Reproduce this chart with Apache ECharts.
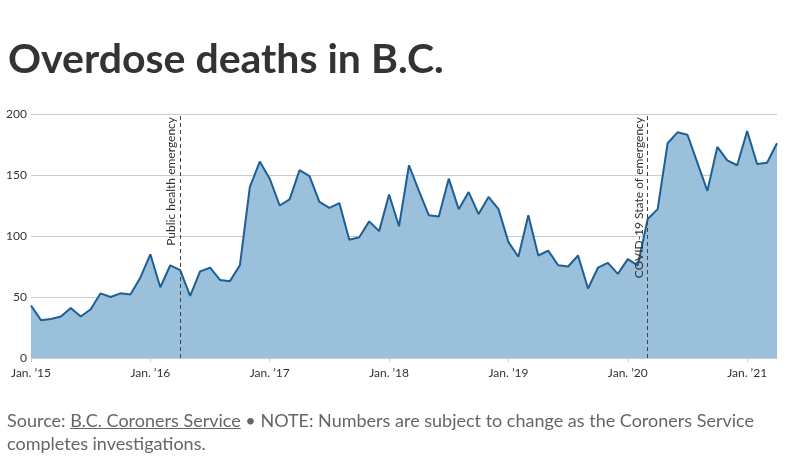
<!DOCTYPE html>
<html>
<head>
<meta charset="utf-8">
<script src="https://cdn.jsdelivr.net/npm/echarts@6/dist/echarts.min.js"></script>
<style>
  html, body { margin: 0; padding: 0; background: #fff; }
  #wrap { position: relative; width: 789px; height: 469px; overflow: hidden; }
  #chart { position: absolute; left: 0; top: 0; width: 789px; height: 469px; }
  #note {
    position: absolute; left: 7px; top: 409px; width: 775px;
    font-family: Lato, sans-serif; font-size: 18px; line-height: 23px; color: #666;
  }
  #note a { color: #666; text-decoration: underline; }
</style>
</head>
<body>
<div id="wrap">
  <div id="chart"></div>
  <div id="note">Source: <a>B.C. Coroners Service</a> • NOTE: Numbers are subject to change as the Coroners Service completes investigations.</div>
</div>
<script>
// monthly overdose deaths, Jan 2015 - Apr 2021
const years = ['15', '16', '17', '18', '19', '20', '21']
const deaths = [
  43, 31, 32, 34, 41, 34, 40, 53, 50, 53, 52, 66,   // 2015
  85, 58, 76, 72, 51, 71, 74, 64, 63, 76, 140, 161, // 2016
  147, 125, 130, 154, 149, 128, 123, 127, 97, 99, 112, 104, // 2017
  134, 108, 158, 137, 117, 116, 147, 122, 136, 118, 132, 122, // 2018
  95, 83, 117, 84, 88, 76, 75, 84, 57, 74, 78, 69, // 2019
  81, 76, 114, 122, 176, 185, 183, 160, 137, 173, 162, 158, // 2020
  186, 159, 160, 176 // 2021
]
// vertical annotations (index into months)
const events = [
  { idx: 15, label: 'Public health emergency' },
  { idx: 62, label: 'COVID-19 State of emergency' }
]

const months = []
years.forEach(y => {
  for (let m = 0; m < 12; m++) months.push(m === 0 ? 'Jan. ’' + y : y + '-' + (m + 1))
})
const cats = months.slice(0, deaths.length)

const chart = echarts.init(document.getElementById('chart'))
chart.setOption({
  animation: false,
  title: {
    text: 'Overdose deaths in B.C.',
    left: 3, top: 34,
    textStyle: { fontFamily: 'Lato', fontWeight: 'bold', fontSize: 41, color: '#333' }
  },
  grid: { left: 31, right: 12, top: 114, bottom: 111 },
  xAxis: {
    type: 'category',
    data: cats,
    boundaryGap: false,
    axisLine: { lineStyle: { color: '#ccc' } },
    axisTick: {
      length: 4,
      lineStyle: { color: '#ccc' },
      interval: (i) => i % 12 === 0
    },
    axisLabel: {
      interval: (i) => i % 12 === 0,
      color: '#333', fontFamily: 'Lato', fontSize: 12, margin: 9
    }
  },
  yAxis: {
    type: 'value',
    min: 0, max: 200, interval: 50,
    axisLine: { show: false },
    axisTick: { show: false },
    splitLine: { lineStyle: { color: '#ccc' } },
    axisLabel: { color: '#333', fontFamily: 'Lato', fontSize: 12, margin: 4 }
  },
  series: [{
    type: 'line',
    data: deaths,
    symbol: 'none',
    lineStyle: { color: '#1d5e96', width: 2 },
    areaStyle: { color: '#9bc0db', opacity: 1 },
    markLine: {
      silent: true,
      symbol: 'none',
      lineStyle: { color: '#444', type: [4, 3], width: 1 },
      label: {
        position: 'insideEndTop',
        distance: 3,
        color: '#333', fontFamily: 'Lato', fontSize: 12
      },
      data: events.map(e => ({
        xAxis: e.idx,
        label: { formatter: e.label }
      }))
    }
  }]
})
</script>
</body>
</html>
